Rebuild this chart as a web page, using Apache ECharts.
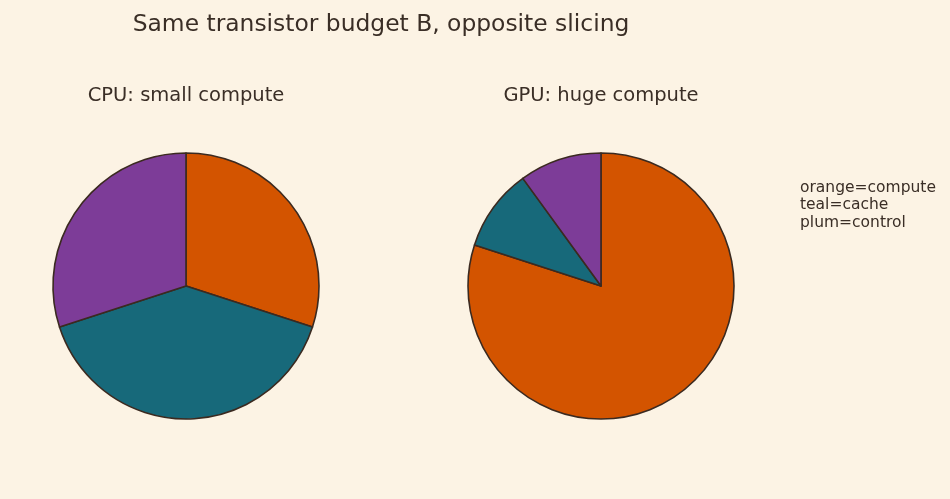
<!DOCTYPE html>
<html>
<head>
<meta charset="utf-8">
<script src="https://cdn.jsdelivr.net/npm/echarts@6/dist/echarts.min.js"></script>
<style>
  html, body { margin: 0; padding: 0; background: #fcf3e4; }
  #chart { width: 950px; height: 499px; }
</style>
</head>
<body>
<div id="chart"></div>
<script>
const parts = ["compute", "cache", "control"];
const cpuShares = [30, 40, 30];
const gpuShares = [80, 10, 10];
const partColors = ["#d35400", "#17697a", "#7d3c98"];
const legendLines = ["orange=compute", "teal=cache", "plum=control"];

const ink = "#3a2e26";
const font = "DejaVu Sans";

const chart = echarts.init(document.getElementById("chart"));

function pieSeries(name, shares, cx) {
  return {
    type: "pie",
    name: name,
    center: [cx, 286],
    radius: 133,
    startAngle: 90,
    clockwise: true,
    animation: false,
    silent: true,
    label: { show: false },
    labelLine: { show: false },
    emphasis: { disabled: true },
    itemStyle: { borderColor: "#3b2a20", borderWidth: 1.6 },
    data: shares.map((v, i) => ({
      name: parts[i],
      value: v,
      itemStyle: { color: partColors[i] },
    })),
  };
}

chart.setOption({
  backgroundColor: "#fcf3e4",
  textStyle: { fontFamily: font },
  title: [
    {
      text: "Same transistor budget B, opposite slicing",
      left: 376, top: 8, textAlign: "center",
      textStyle: { fontFamily: font, fontSize: 23.4, fontWeight: "normal", color: ink },
    },
    {
      text: "CPU: small compute",
      left: 181, top: 81, textAlign: "center",
      textStyle: { fontFamily: font, fontSize: 19.5, fontWeight: "normal", color: ink },
    },
    {
      text: "GPU: huge compute",
      left: 596, top: 81, textAlign: "center",
      textStyle: { fontFamily: font, fontSize: 19.5, fontWeight: "normal", color: ink },
    },
  ],
  graphic: [
    {
      type: "text",
      left: 800, top: 179,
      style: {
        text: legendLines.join("\n"),
        font: "15.5px DejaVu Sans",
        lineHeight: 17.5,
        fill: ink,
      },
    },
  ],
  series: [
    pieSeries("CPU", cpuShares, 186),
    pieSeries("GPU", gpuShares, 601),
  ],
});
</script>
</body>
</html>
